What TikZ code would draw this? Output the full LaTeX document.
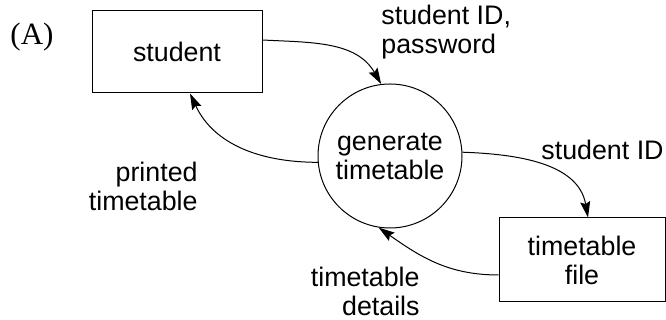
\documentclass[tikz,border=0pt]{standalone}
\usepackage{fontspec}
\setmainfont{Liberation Sans}
\newfontfamily\labelserif{Liberation Serif}
\usetikzlibrary{arrows.meta}

\tikzset{%
  % Styles for the boxes, the process circle and the flows:
        entity/.style = {rectangle, draw = black, line width=0.5pt, minimum width=85pt, minimum height=41pt, align=center},
       process/.style = {circle, draw = black, line width=0.5pt, minimum size=72pt, inner sep=0pt, align=center},
          flow/.style = {-{Stealth[length=8pt, width=5pt, inset=1.2pt]}, line width=0.5pt},
     flowlabel/.style = {inner sep=0pt},
}

\begin{document}
\begin{tikzpicture}[x=0.5pt, y=0.5pt, every node/.style={font=\fontsize{13.4}{14.5}\selectfont}]
    \useasboundingbox (0,0) rectangle (666,320);

    % Draw nodes
    \node (tag)     at (32,283)   {\labelserif\fontsize{15.5}{16}\selectfont (A)};
    \node (student) [entity]  at (177,268) {student};
    \node (gen)     [process] at (390,164) {generate\\timetable};
    \node (file)    [entity, minimum width=83pt, minimum height=42pt] at (582,60) {timetable\\file};

    % Draw labels
    \node (idpass)  [flowlabel, anchor=west, align=left]  at (381,288) {student ID,\\password};
    \node (printed) [flowlabel, anchor=east, align=right] at (198,134) {printed\\timetable};
    \node (sid)     [flowlabel, anchor=east]              at (664,170) {student ID};
    \node (details) [flowlabel, anchor=east, align=right] at (420,29)  {timetable\\details};

    % Draw arrows
    \draw[flow] ([yshift=6pt]student.east) to[out=-3, in=120] (gen.97);
    \draw[flow] (gen.185) to[out=180, in=-65] ([xshift=6.5pt]student.south);
    \draw[flow] (gen.3) to[out=-2, in=100] ([xshift=3pt]file.north);
    \draw[flow] ([yshift=-7.5pt]file.west) to[out=180, in=-35] (gen.261);
\end{tikzpicture}
\end{document}
